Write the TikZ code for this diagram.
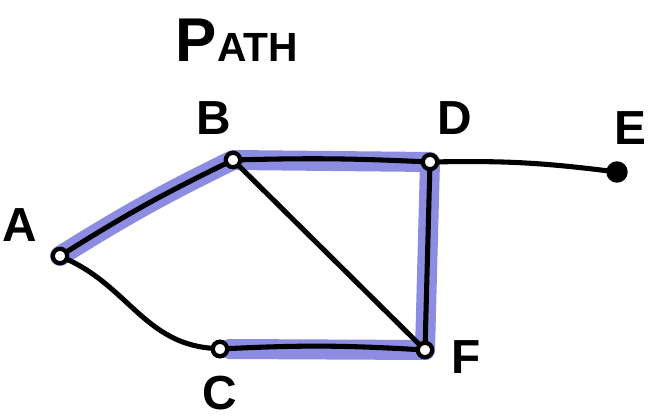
\documentclass[tikz,border=0pt]{standalone}
\usepackage{fontspec}
\setmainfont{Liberation Sans}
\definecolor{hlblue}{RGB}{140,140,226}

\begin{document}
\begin{tikzpicture}[
  x=0.025cm, y=-0.025cm,
  vertex/.style={circle, draw, line width=3pt, minimum size=0.36cm, inner sep=0pt, fill=white},
  endpt/.style={circle, draw, fill=black, line width=1pt, minimum size=0.5cm, inner sep=0pt},
  lbl/.style={font=\fontsize{34}{36}\selectfont\bfseries},
  edge/.style={line width=3.6pt, line cap=round},
  highlight/.style={hlblue, line width=0.5cm, line cap=round, line join=round}
]
\useasboundingbox (0,0) rectangle (660,420);

\node[vertex] (A) at (60, 256)  {};
\node[vertex] (B) at (233, 160) {};
\node[vertex] (D) at (430, 162) {};
\node[endpt]  (E) at (617, 172) {};
\node[vertex] (C) at (220, 349) {};
\node[vertex] (F) at (425, 350) {};

\node[lbl, font=\fontsize{44}{46}\selectfont\bfseries] (title) at (237, 40) {P{\fontsize{29}{30}\selectfont ATH}};
\node[lbl] (lA) at (20, 225)  {A};
\node[lbl] (lB) at (214, 118) {B};
\node[lbl] (lD) at (455, 118) {D};
\node[lbl] (lE) at (630, 128) {E};
\node[lbl] (lC) at (220, 393) {C};
\node[lbl] (lF) at (466, 357) {F};

% path highlight
\draw[highlight] (A.center) to[bend left=3] (B.center) -- (D.center) -- (F.center);
\draw[highlight] (C.east) -- (F.center);

\draw[edge] (A) to[bend left=3] (B);
\draw[edge] (B) to[bend left=2] (D);
\draw[edge] (D) to[bend left=4] (E);
\draw[edge] (B) -- (F);
\draw[edge] (D) -- (F);
\draw[edge] (A) to[out=-25, in=175] (C);
\draw[edge] (C) to[bend left=3] (F);

\node[vertex] at (A) {};
\node[vertex] at (B) {};
\node[vertex] at (D) {};
\node[vertex] at (C) {};
\node[vertex] at (F) {};

\end{tikzpicture}
\end{document}
